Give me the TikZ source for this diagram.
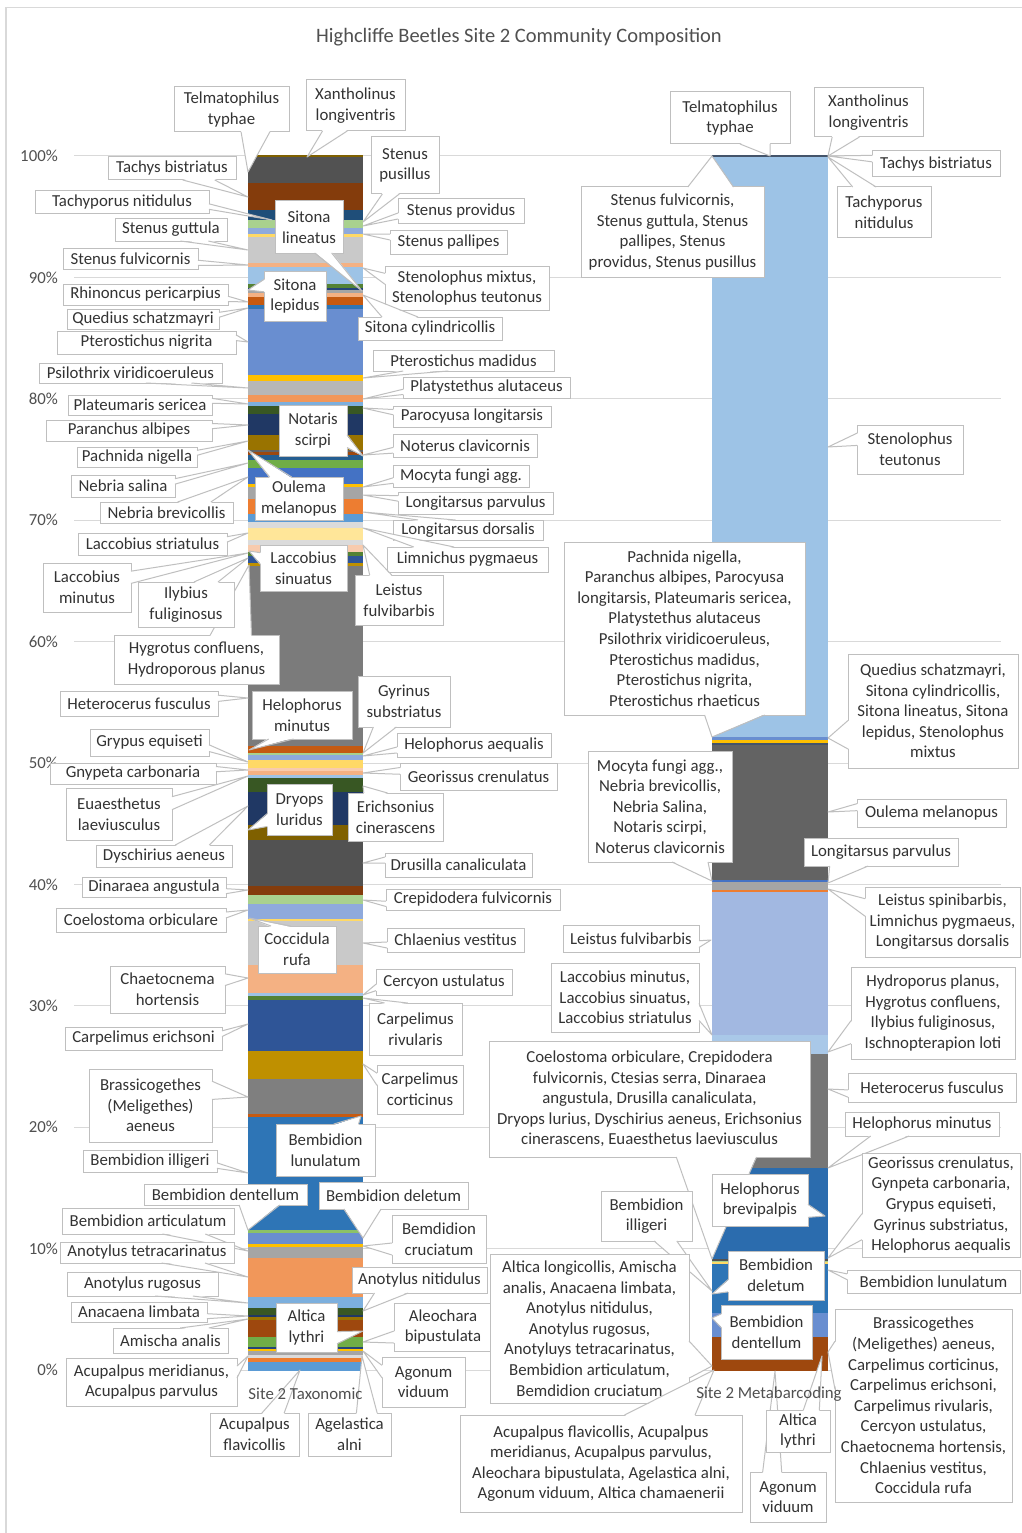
\documentclass[tikz,border=0pt]{standalone}
\usepackage{fontspec}
\setmainfont{Carlito}
\newcommand\lblfont{\fontsize{16.8}{20.6}\selectfont}
\newcommand\ttlfont{\fontsize{20.5}{24}\selectfont}

% Office palette
\definecolor{blueA}{HTML}{4472C4}\definecolor{orangeA}{HTML}{ED7D31}\definecolor{grayA}{HTML}{A5A5A5}
\definecolor{goldA}{HTML}{FFC000}\definecolor{skyA}{HTML}{5B9BD5}\definecolor{greenA}{HTML}{70AD47}
\definecolor{blueDa}{HTML}{2F5597}\definecolor{orangeDa}{HTML}{C55A11}\definecolor{grayDa}{HTML}{7B7B7B}
\definecolor{goldDa}{HTML}{BF9000}\definecolor{skyDa}{HTML}{2E75B6}\definecolor{greenDa}{HTML}{548235}
\definecolor{blueDb}{HTML}{203864}\definecolor{orangeDb}{HTML}{843C0C}\definecolor{grayDb}{HTML}{525252}
\definecolor{goldDb}{HTML}{7F6000}\definecolor{skyDb}{HTML}{1F4E79}\definecolor{greenDb}{HTML}{385723}
\definecolor{blueLa}{HTML}{8FAADC}\definecolor{orangeLa}{HTML}{F4B183}\definecolor{grayLa}{HTML}{C9C9C9}
\definecolor{goldLa}{HTML}{FFD966}\definecolor{skyLa}{HTML}{9DC3E6}\definecolor{greenLa}{HTML}{A9D18E}
\definecolor{orangeLb}{HTML}{F8CBAD}\definecolor{grayLb}{HTML}{DBDBDB}\definecolor{goldLb}{HTML}{FFE699}
\definecolor{blueDc}{HTML}{264478}\definecolor{orangeDc}{HTML}{9E480E}\definecolor{grayDc}{HTML}{636363}
\definecolor{goldDc}{HTML}{997300}\definecolor{skyDc}{HTML}{255E91}
\definecolor{blueM}{HTML}{698ED0}\definecolor{orangeM}{HTML}{F1975A}\definecolor{grayM}{HTML}{B7B7B7}
\definecolor{skyM}{HTML}{7CAFDD}\definecolor{greenM}{HTML}{8CC168}
\definecolor{slate}{HTML}{44546A}\definecolor{grayS}{HTML}{7F7F7F}\definecolor{grayT}{HTML}{767676}
\definecolor{periw}{HTML}{A2B8E1}\definecolor{paleblue}{HTML}{A9C8E8}\definecolor{deepblue}{HTML}{2B6CAE}
\definecolor{boxgray}{HTML}{BFBFBF}\definecolor{gridgray}{HTML}{D9D9D9}
\definecolor{txtgray}{HTML}{333333}\definecolor{ttlgray}{HTML}{505050}

\tikzset{
  lbl/.style={draw=boxgray, fill=white, line width=1pt, inner sep=1pt, outer sep=0pt,
    align=center, font=\lblfont, text=txtgray},
  leader/.style={draw=boxgray, line width=1pt, line join=round},
  gridline/.style={draw=gridgray, line width=1pt},
  pct/.style={anchor=east, font=\lblfont, text=ttlgray, inner sep=0pt},
  axislbl/.style={font=\lblfont, text=ttlgray, inner sep=0pt},
}

% callout pointer: a wedge from the side of box #1 that faces coordinate #2
\newcommand\wedgeto[2]{%
  \pgfpointanchor{#1}{south west}\pgfgetlastxy\qxa\qya
  \pgfpointanchor{#1}{north east}\pgfgetlastxy\qxb\qyb
  \pgfpointanchor{#2}{center}\pgfgetlastxy\qtx\qty
  \pgfmathsetmacro\qw{\qxb-\qxa}%
  \pgfmathsetmacro\qh{\qyb-\qya}%
  \pgfmathsetmacro\qdx{\qtx-0.5*(\qxa+\qxb)}%
  \pgfmathsetmacro\qdy{\qty-0.5*(\qya+\qyb)}%
  \pgfmathsetmacro\qsel{abs(\qdy)/\qh-abs(\qdx)/\qw}%
  \ifdim\qsel pt>0pt
    \ifdim\qdy pt>0pt \pgfmathsetmacro\qe{\qyb}\pgfmathsetmacro\qf{\qyb-1}%
    \else \pgfmathsetmacro\qe{\qya}\pgfmathsetmacro\qf{\qya+1}\fi
    \ifdim\qdx pt>0pt \pgfmathsetmacro\qpa{\qxa+\qw*7/12}\pgfmathsetmacro\qpb{\qxa+\qw*10/12}%
    \else \pgfmathsetmacro\qpa{\qxa+\qw*2/12}\pgfmathsetmacro\qpb{\qxa+\qw*5/12}\fi
    \fill[white] (\qpa pt,\qf pt) -- (\qtx,\qty) -- (\qpb pt,\qf pt) -- cycle;
    \draw[leader] (\qpa pt,\qe pt) -- (\qtx,\qty) -- (\qpb pt,\qe pt);
  \else
    \ifdim\qdx pt>0pt \pgfmathsetmacro\qe{\qxb}\pgfmathsetmacro\qf{\qxb-1}%
    \else \pgfmathsetmacro\qe{\qxa}\pgfmathsetmacro\qf{\qxa+1}\fi
    \ifdim\qdy pt<0pt \pgfmathsetmacro\qpa{\qyb-\qh*7/12}\pgfmathsetmacro\qpb{\qyb-\qh*10/12}%
    \else \pgfmathsetmacro\qpa{\qyb-\qh*2/12}\pgfmathsetmacro\qpb{\qyb-\qh*5/12}\fi
    \fill[white] (\qf pt,\qpa pt) -- (\qtx,\qty) -- (\qf pt,\qpb pt) -- cycle;
    \draw[leader] (\qe pt,\qpa pt) -- (\qtx,\qty) -- (\qe pt,\qpb pt);
  \fi}

% data label: name, box x1 y1 x2 y2, pointer target x y, text
\newcommand\lab[8]{%
  \node[lbl, minimum width={#4-#2}, minimum height={#5-#3}] (#1) at ({(#2+#4)/2},{(#3+#5)/2}) {#8};
  \coordinate (#1-t) at (#6,#7);
  \wedgeto{#1}{#1-t}}

\begin{document}
\begin{tikzpicture}[x=1pt,y=-1pt]
\useasboundingbox (0,0) rectangle (1021,1533);
\fill[white] (0,0) rectangle (1021,1533);
\draw[draw=gridgray, line width=1.3pt] (6,7.5) rectangle (1030,1545);

\node[font=\ttlfont, text=ttlgray] (title) at (519,37) {Highcliffe Beetles Site 2 Community Composition};

% value axis grid and labels
\foreach \k/\p in {0/100\%,1/90\%,2/80\%,3/70\%,4/60\%,5/50\%,6/40\%,7/30\%,8/20\%,9/10\%,10/0\%}{
  \draw[gridline] (74,{156+121.4*\k}) -- (1001,{156+121.4*\k});
  \node[pct] at (58,{156+121.4*\k}) {\p};
}

% Site 2 Taxonomic stacked column
\foreach \a/\b/\c in {155.5/157.5/goldDb,157.5/183.5/grayDb,183.5/209.5/orangeDb,209.5/220/skyDb,
  220/227.5/greenLa,227.5/234/blueLa,234/237/goldLa,237/263/grayLa,263/266.5/orangeLa,266.5/284/skyLa,
  284/287.5/greenDa,287.5/290/blueDc,290/293/grayA,293/297/orangeLa,297/305/orangeDa,305/309/skyDa,
  309/374.5/blueM,374.5/381/goldA,381/395/grayM,395/401.5/orangeM,401.5/406/skyM,406/413.5/greenDb,
  413.5/435/blueDb,435/449.5/goldDc,449.5/452/grayDc,452/455/orangeDc,455/460/skyDc,460/467.5/greenA,
  467.5/484/blueA,484/487/goldA,487/499/grayA,499/513.5/orangeA,513.5/522/skyA,522/527.5/grayLb,
  527.5/539.5/goldLb,539.5/545/grayLb,545/552/orangeLb,552/556/greenDa,556/562.5/blueDa,562.5/566/goldDa,
  566/746/grayDa,746/752.5/orangeDa,752.5/755/greenLa,755/760/blueLa,760/767.5/goldLa,767.5/771/orangeLb,
  771/775/orangeLa,775/778/skyLa,778/791.5/greenDb,791.5/825/blueDb,825/840/goldDb,840/885.5/grayDb,
  885.5/895/orangeDb,895/903.5/greenLa,903.5/918.5/blueLa,918.5/921/goldLa,921/965/grayLa,965/992.5/orangeLa,
  992.5/995.5/skyLa,995.5/999.5/greenDa,999.5/1050.5/blueDa,1050.5/1079/goldDa,1079/1114/grayS,
  1114/1117/orangeDa,1117/1230/skyDa,1230/1233/greenM,1233/1244/blueM,1244/1247/goldA,1247/1257.5/grayA,
  1257.5/1296.5/orangeM,1296.5/1307.5/skyM,1307.5/1315/greenDb,1315/1317/blueDb,1317/1320/goldDc,
  1320/1336.5/orangeDc,1336.5/1346.5/greenA,1346.5/1349/blueDc,1349/1351/goldA,1351/1355/grayA,
  1355/1358/grayLb,1358/1362/orangeA,1362/1370.5/skyA}
  \fill[\c] (248,\a) rectangle (363,\b);

% Site 2 Metabarcoding stacked column
\foreach \a/\b/\c in {155/157/slate,157/736.5/skyLa,736.5/740/blueM,740/743/goldA,743/745/slate,
  745/880/grayDc,880/882/blueA,882/889.5/grayA,889.5/891.5/orangeA,891.5/1035/periw,1035/1053.5/paleblue,
  1053.5/1168/grayT,1168/1258.5/deepblue,1258.5/1260.5/grayDb,1260.5/1262/greenLa,1262/1264/goldLa,
  1264/1312.5/skyDa,1312.5/1336.5/blueM,1336.5/1370.5/orangeDc}
  \fill[\c] (712,\a) rectangle (828,\b);

% labels of the taxonomic column
\lab{ltelma}{174}{87}{289}{132}{248}{172}{Telmatophilus\\typhae}
\lab{lxanth}{306}{80}{405}{131}{307}{157}{Xantholinus\\longiventris}
\lab{lspus}{371}{137}{439}{194}{363}{222}{Stenus\\pusillus}
\lab{ltachys}{108}{157}{236}{180}{248}{197}{Tachys bistriatus}
\lab{ltachyp}{35}{191}{209}{213}{272}{220}{Tachyporus nitidulus}
\lab{lsprov}{398}{199}{524}{223}{363}{226}{Stenus providus}
\lab{lsgutt}{115}{218}{227}{241}{248}{250}{Stenus guttula}
\lab{lspall}{390}{230}{507}{254}{363}{234}{Stenus pallipes}
\lab{lslin}{275}{201}{343}{253}{362}{291}{Sitona\\lineatus}
\lab{lsfulv}{63}{248}{198}{269}{248}{265}{Stenus fulvicornis}
\lab{lsteno}{385}{266}{549}{310}{363}{268}{Stenolophus mixtus,\\Stenolophus teutonus}
\lab{lslep}{264}{271}{326}{321}{248}{290}{Sitona\\lepidus}
\lab{lrhin}{63}{284}{228}{305}{248}{302}{Rhinoncus pericarpius}
\lab{lqued}{67}{309}{219}{329}{248}{308}{Quedius schatzmayri}
\lab{lscyl}{358}{317}{502}{340}{363}{295}{Sitona cylindricollis}
\lab{lpnig}{57}{331}{236}{354}{248}{342}{Pterostichus nigrita}
\lab{lpmad}{373}{350}{554}{371}{363}{378}{Pterostichus madidus}
\lab{lpsil}{39}{363}{222}{383}{248}{388}{Psilothrix viridicoeruleus}
\lab{lplat}{403}{377}{570}{398}{363}{399}{Platystethus alutaceus}
\lab{lplate}{68}{395}{212}{415}{248}{404}{Plateumaris sericea}
\lab{lparo}{393}{406}{551}{427}{363}{408}{Parocyusa longitarsis}
\lab{lnotar}{279}{405}{347}{456}{363}{456}{Notaris\\scirpi}
\lab{lparan}{46}{420}{212}{441}{248}{425}{Paranchus albipes}
\lab{lnoter}{393}{434}{537}{457}{363}{455}{Noterus clavicornis}
\lab{lpach}{77}{447}{197}{467}{248}{441}{Pachnida nigella}
\lab{lmocy}{393}{465}{529}{487}{363}{487}{Mocyta fungi agg.}
\lab{lnsal}{71}{475}{175}{497}{248}{463}{Nebria salina}
\lab{loul}{255}{477}{343}{520}{248}{450}{Oulema\\melanopus}
\lab{llpar}{398}{492}{553}{514}{363}{495}{Longitarsus parvulus}
\lab{lnbrev}{100}{502}{233}{523}{248}{477}{Nebria brevicollis}
\lab{lldor}{393}{520}{543}{540}{363}{512}{Longitarsus dorsalis}
\lab{llstr}{78}{533}{227}{555}{248}{533}{Laccobius striatulus}
\lab{llimn}{387}{547}{548}{572}{363}{528}{Limnichus pygmaeus}
\lab{llsin}{260}{545}{347}{591}{249}{551}{Laccobius\\sinuatus}
\lab{llmin}{43}{563}{131}{612}{248}{553}{Laccobius\\minutus}
\lab{lhygr}{114}{635}{279}{684}{249}{565}{Hygrotus confluens,\\Hydroporous planus}
\lab{lilyb}{138}{582}{234}{627}{248}{558}{Ilybius\\fuliginosus}
\lab{lleist}{355}{575}{443}{625}{363}{545}{Leistus\\fulvibarbis}
\lab{lhete}{60}{691}{218}{716}{248}{698}{Heterocerus fusculus}
\lab{lgyrin}{358}{676}{450}{727}{363}{753}{Gyrinus\\substriatus}
\lab{lhmin}{252}{691}{352}{739}{249}{750}{Helophorus\\minutus}
\lab{lgryp}{90}{729}{209}{756}{248}{762}{Grypus equiseti}
\lab{lhaeq}{397}{733}{551}{757}{363}{756}{Helophorus aequalis}
\lab{lgnyp}{50}{763}{216}{784}{248}{770}{Gnypeta carbonaria}
\lab{lgeor}{400}{763}{557}{790}{363}{773}{Georissus crenulatus}
\lab{leuae}{66}{788}{172}{840}{248}{776}{Euaesthetus\\laeviusculus}
\lab{ldryo}{267}{784}{332}{835}{248}{830}{Dryops\\luridus}
\lab{leric}{348}{793}{443}{841}{363}{786}{Erichsonius\\cinerascens}
\lab{ldysc}{96}{845}{232}{867}{248}{806}{Dyschirius aeneus}
\lab{ldrus}{385}{853}{532}{877}{363}{863}{Drusilla canaliculata}
\lab{ldina}{82}{877}{226}{897}{248}{890}{Dinaraea angustula}
\lab{lcrep}{386}{889}{560}{910}{363}{900}{Crepidodera fulvicornis}
\lab{lcoel}{56}{908}{226}{932}{248}{910}{Coelostoma orbiculare}
\lab{lcocc}{258}{926}{336}{973}{249}{918}{Coccidula\\rufa}
\lab{lchla}{387}{928}{524}{952}{363}{943}{Chlaenius vestitus}
\lab{lcerc}{376}{969}{512}{995}{363}{995}{Cercyon ustulatus}
\lab{lchae}{110}{966}{225}{1013}{248}{978}{Chaetocnema\\hortensis}
\lab{lcriv}{369}{1003}{462}{1055}{363}{998}{Carpelimus\\rivularis}
\lab{lceri}{65}{1027}{222}{1050}{248}{1024}{Carpelimus erichsoni}
\lab{lccor}{377}{1065}{463}{1114}{363}{1064}{Carpelimus\\corticinus}
\lab{lbrass}{89}{1069}{212}{1142}{248}{1097}{Brassicogethes\\(Meligethes)\\aeneus}
\lab{lblun}{276}{1124}{375}{1176}{361}{1116}{Bembidion\\lunulatum}
\lab{lbill}{83}{1150}{217}{1172}{248}{1173}{Bembidion illigeri}
\lab{lbden}{144}{1184}{307}{1205}{248}{1230}{Bembidion dentellum}
\lab{lbdel}{319}{1182}{468}{1209}{363}{1238}{Bembidion deletum}
\lab{lbart}{62}{1208}{234}{1234}{248}{1251}{Bembidion articulatum}
\lab{lbcru}{392}{1215}{486}{1263}{363}{1246}{Bemdidion\\cruciatum}
\lab{latet}{60}{1242}{234}{1263}{248}{1277}{Anotylus tetracarinatus}
\lab{lanit}{352}{1267}{487}{1293}{363}{1311}{Anotylus nitidulus}
\lab{larug}{67}{1272}{218}{1296}{248}{1303}{Anotylus rugosus}
\lab{lalim}{71}{1302}{207}{1322}{248}{1316}{Anacaena limbata}
\lab{laltl}{276}{1303}{337}{1352}{363}{1331}{Altica\\lythri}
\lab{laleo}{394}{1303}{492}{1351}{363}{1342}{Aleochara\\bipustulata}
\lab{lamis}{113}{1328}{228}{1353}{248}{1319}{Amischa analis}
\lab{lagon}{382}{1357}{465}{1407}{363}{1351}{Agonum\\viduum}
\lab{lacme}{66}{1358}{237}{1406}{248}{1356}{Acupalpus meridianus,\\Acupalpus parvulus}
\lab{lacfl}{210}{1413}{299}{1456}{300}{1370}{Acupalpus\\flavicollis}
\lab{lagel}{308}{1413}{391}{1456}{362}{1356}{Agelastica\\alni}

% labels of the metabarcoding column
\lab{rtelma}{670}{92}{790}{144}{770}{156}{Telmatophilus\\typhae}
\lab{rxanth}{814}{88}{923}{137}{828}{156}{Xantholinus\\longiventris}
\lab{rtachys}{872}{151}{1000}{177}{828}{156}{Tachys bistriatus}
\lab{rtachyp}{837}{187}{931}{237}{828}{157}{Tachyporus\\nitidulus}
\lab{rsten}{581}{187}{764}{277}{712}{156}{Stenus fulvicornis,\\Stenus guttula, Stenus\\pallipes, Stenus\\providus, Stenus pusillus}
\lab{rsteno}{857}{425}{963}{474}{828}{447}{Stenolophus\\teutonus}
\lab{rpach}{564}{542}{805}{715}{712}{737}{Pachnida nigella,\\Paranchus albipes, Parocyusa\\longitarsis, Plateumaris sericea,\\Platystethus alutaceus\\Psilothrix viridicoeruleus,\\Pterostichus madidus,\\Pterostichus nigrita,\\Pterostichus rhaeticus}
\lab{rqued}{848}{654}{1018}{768}{828}{738}{Quedius schatzmayri,\\Sitona cylindricollis,\\Sitona lineatus, Sitona\\lepidus, Stenolophus\\mixtus}
\lab{rmocy}{588}{751}{732}{862}{712}{881}{Mocyta fungi agg.,\\Nebria brevicollis,\\Nebria Salina,\\Notaris scirpi,\\Noterus clavicornis}
\lab{roul}{857}{799}{1006}{827}{828}{812}{Oulema melanopus}
\lab{rlpar}{804}{838}{958}{866}{828}{883}{Longitarsus parvulus}
\lab{rleisp}{865}{887}{1020}{957}{828}{889}{Leistus spinibarbis,\\Limnichus pygmaeus,\\Longitarsus dorsalis}
\lab{rleif}{563}{925}{699}{952}{711}{940}{Leistus fulvibarbis}
\lab{rlacc}{551}{963}{699}{1032}{712}{1035}{Laccobius minutus,\\Laccobius sinuatus,\\Laccobius striatulus}
\lab{rhydr}{851}{967}{1015}{1059}{828}{1052}{Hydroporus planus,\\Hygrotus confluens,\\Ilybius fuliginosus,\\Ischnopterapion loti}
\lab{rcoel}{489}{1041}{810}{1157}{712}{1259}{Coelostoma orbiculare, Crepidodera\\fulvicornis, Ctesias serra, Dinaraea\\angustula, Drusilla canaliculata,\\Dryops lurius, Dyschirius aeneus, Erichsonius\\cinerascens, Euaesthetus laeviusculus}
\lab{rhete}{848}{1073}{1016}{1102}{828}{1089}{Heterocerus fusculus}
\lab{rhmin}{845}{1112}{999}{1136}{828}{1168}{Helophorus minutus}
\lab{rgeor}{862}{1153}{1020}{1257}{828}{1258}{Georissus crenulatus,\\Gynpeta carbonaria,\\Grypus equiseti,\\Gyrinus substriatus,\\Helophorus aequalis}
\lab{rhbrev}{712}{1174}{808}{1226}{825}{1216}{Helophorus\\brevipalpis}
\lab{rbill}{601}{1191}{692}{1241}{712}{1291}{Bembidion\\illigeri}
\lab{rbdel}{728}{1251}{824}{1300}{712}{1294}{Bembidion\\deletum}
\lab{rblun}{847}{1270}{1020}{1293}{828}{1270}{Bembidion lunulatum}
\lab{rbden}{721}{1305}{812}{1359}{712}{1318}{Bembidion\\dentellum}
\lab{rbrass}{835}{1309}{1012}{1502}{828}{1352}{Brassicogethes\\(Meligethes) aeneus,\\Carpelimus corticinus,\\Carpelimus erichsoni,\\Carpelimus rivularis,\\Cercyon ustulatus,\\Chaetocnema hortensis,\\Chlaenius vestitus,\\Coccidula rufa}
\lab{raltlo}{490}{1254}{689}{1403}{712}{1366}{Altica longicollis, Amischa\\analis, Anacaena limbata,\\Anotylus nitidulus,\\Anotylus rugosus,\\Anotyluys tetracarinatus,\\Bembidion articulatum,\\Bemdidion cruciatum}
\lab{racup}{460}{1415}{742}{1512}{714}{1370}{Acupalpus flavicollis, Acupalpus\\meridianus, Acupalpus parvulus,\\Aleochara bipustulata, Agelastica alni,\\Agonum viduum, Altica chamaenerii}
\lab{ragon}{750}{1472}{826}{1522}{775}{1371}{Agonum\\viduum}
\lab{raltl}{766}{1410}{830}{1452}{822}{1356}{Altica\\lythri}

% category axis labels
\node[axislbl] (cat1) at (305.5,1394) {Site 2 Taxonomic};
\node[axislbl] (cat2) at (769,1394) {Site 2 Metabarcoding};
\end{tikzpicture}
\end{document}
